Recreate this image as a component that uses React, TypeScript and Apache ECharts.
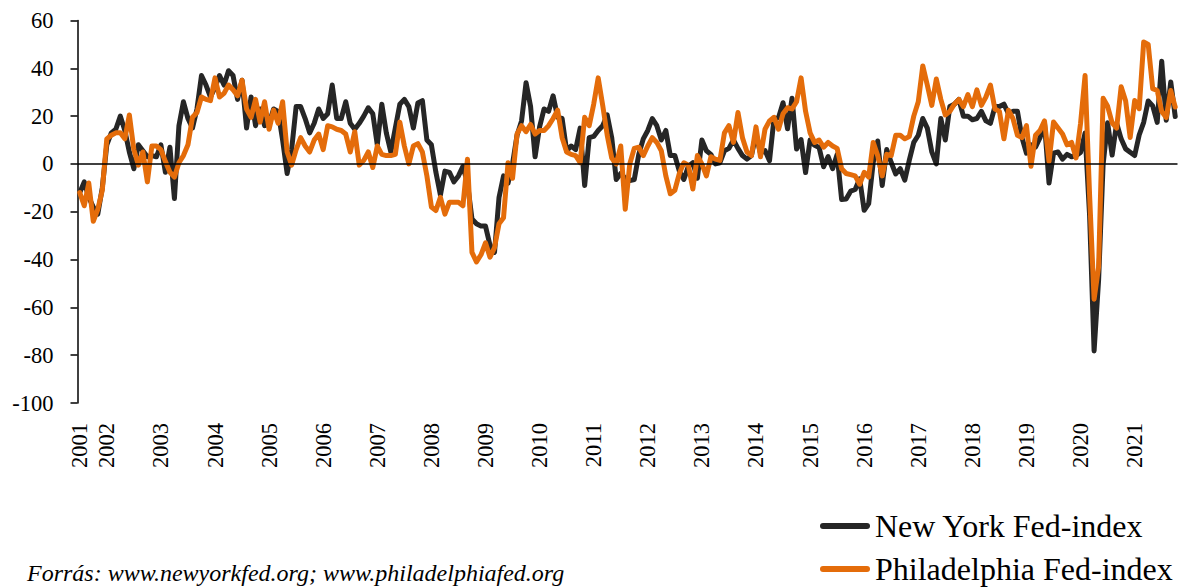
import { useEffect, useRef } from "react";
import * as echarts from "echarts";

// Monthly data, July 2001 – October 2021
const FIRST_YEAR = 2001;
const FIRST_MONTH = 7;

const newYorkFed: number[] = [
  // 2001 Jul-Dec
  -12, -7.5, -14, -18, -21, -10,
  // 2002
  8, 13, 14.5, 20, 14, 5, -2, 8, 5.5, 3, 3.5, 3,
  // 2003
  8, -3.5, 7, -14.5, 16, 26, 19, 15, 23, 37, 33, 28,
  // 2004
  32, 37, 33, 39, 37, 27, 35, 15, 28, 16, 23, 16,
  // 2005
  17, 23, 22, 10, -4, 6, 24, 24, 19, 13, 17, 23,
  // 2006
  19, 21, 33, 19, 19, 26, 17, 14.5, 17, 20, 23.5, 21,
  // 2007
  8, 25, 13, 5, 15, 25, 27, 24, 15, 25.5, 26.5, 10,
  // 2008
  8, -3.5, -13, -3, -3.5, -7.5, -5, -1, -8, -23, -25, -26,
  // 2009
  -26, -34, -37, -14, -5, -8, 0, 12, 18, 34, 24, 3,
  // 2010
  15.5, 23, 22, 28.5, 19.5, 19, 5.5, 7.5, 6, 15, -9, 11,
  // 2011
  11.5, 14, 16, 20.5, 11, -6.5, -4, -6, -7, -6.5, 4, 10.5,
  // 2012
  14, 19, 16, 10, 14, 3.5, 3.5, -3, -6.5, -1, 0.5, -6,
  // 2013
  10, 5.5, 4, 0, 0.5, 5.5, 6.5, 10, 6.5, 3.5, 2, 3.5,
  // 2014
  12.5, 4.5, 5.6, 1.3, 19, 19.3, 25.6, 14.7, 27.5, 6.2, 10.2, -3.6,
  // 2015
  10, 7.8, 6.9, -1.2, 3.1, -2, 3.9, -14.9, -14.7, -11.4, -10.7, -6.2,
  // 2016
  -19.4, -16.6, 0.6, 9.6, -9, 6, 0.6, -4.2, -2, -6.8, 1.5, 9,
  // 2017
  12, 19, 15, 5, 0, 19, 10, 24, 25, 27, 20, 20,
  // 2018
  18.5, 19, 22, 18, 17, 24, 24, 25, 21, 22, 22, 11,
  // 2019
  4.5, 8, 7, 11, 17, -8, 4.5, 5, 2, 4, 3, 3.5,
  // 2020
  4.8, 12.9, -21.5, -78.2, -48.5, -0.2, 17.2, 3.7, 17, 10.5, 6.3, 4.9,
  // 2021 Jan-Oct
  3.5, 12.1, 17.4, 26.3, 24.3, 17.4, 43, 18.3, 34.3, 19.8,
];

const philadelphiaFed: number[] = [
  // 2001 Jul-Dec
  -12, -17.5, -8, -24, -19, -11,
  // 2002
  10.5, 12, 13, 13, 10.5, 20.5, 6, -0.5, 5, -7.5, 7.5, 7.5,
  // 2003
  6, 1, -3.5, -5.5, 0.5, 3.5, 8, 19.5, 21.5, 28, 27, 26.5,
  // 2004
  36, 28, 29.5, 33, 31, 28.5, 35, 23, 19.5, 27, 17.5, 26,
  // 2005
  14.5, 22.5, 17, 26, 5, -0.5, 6, 11, 7.5, 5, 10, 12.5,
  // 2006
  6, 16, 15.5, 14.5, 14, 12.5, 5, 13.5, -0.5, 1.5, 5, -1.5,
  // 2007
  7.5, 4, 3.5, 3.5, 4, 17.5, 7.5, 0, 7.5, 8.5, 5, -5,
  // 2008
  -18, -19.5, -14, -21, -16, -16, -16, -17.5, 2, -37, -41, -38,
  // 2009
  -33, -39, -35, -25, -22.5, 0.5, -6, 12.5, 16, 13.5, 16.5, 12.5,
  // 2010
  14, 14, 16, 19, 22.5, 11, 5, 4, 3.5, 0.5, 19.5, 16,
  // 2011
  25, 36, 24.5, 12, 2.5, 0, 7.5, -19, 0, 6.5, 7, 3.5,
  // 2012
  7.5, 11, 9, 5.5, -5, -12.5, -11, -4, 0.5, -0.5, -10.5, 3.5,
  // 2013
  0, -5, 3, 2, 1.5, 13, 16, 9, 21.5, 11, 5, 3.5,
  // 2014
  15.5, 3, 14.5, 18, 19.5, 14.5, 21, 23.5, 23, 26, 36, 22,
  // 2015
  13, 9, 10, 7, 9, 7.5, 6.5, -2, -4, -4.5, -5, -8.5,
  // 2016
  -3.5, -5.5, 9, 3.5, -5, 4, 3.5, 12, 12, 10.5, 11.5, 20,
  // 2017
  26, 41, 33, 24.5, 35.5, 27, 20.5, 22, 25, 27, 24, 29,
  // 2018
  24, 31, 24.5, 28, 33, 23, 22, 10.5, 22.5, 19, 12, 11,
  // 2019
  16, -1, 12, 14, 18, 1, 17.5, 15, 12.5, 8, 9, 2.5,
  // 2020
  17, 37, -13, -56.6, -43.1, 27.5, 24.1, 17.2, 15, 32.3, 26.3, 11.1,
  // 2021 Jan-Oct
  26.5, 23.1, 51, 50, 31.5, 30.7, 21.9, 19.4, 30.7, 23.8,
];

const months: string[] = newYorkFed.map((_, k) => {
  const m = FIRST_MONTH - 1 + k;
  return `${FIRST_YEAR + Math.floor(m / 12)}-${String((m % 12) + 1).padStart(2, "0")}`;
});

const seriesNames = ["New York Fed-index", "Philadelphia Fed-index"];
const sourceText = "Forrás: www.newyorkfed.org; www.philadelphiafed.org";

const SERIF = "Liberation Serif";
const BLACK = "#262626";
const ORANGE = "#E46C0A";

const legendBase = {
  orient: "vertical",
  left: 820,
  padding: 0,
  itemWidth: 50,
  itemHeight: 6,
  icon: "path://M3 0H47A3 3 0 0 1 47 6H3A3 3 0 0 1 3 0Z",
  selectedMode: false,
  textStyle: { fontFamily: SERIF, fontSize: 32, color: "#000", lineHeight: 32 },
};

export default function App() {
  const ref = useRef<HTMLDivElement>(null);
  useEffect(() => {
    document.body.style.margin = "0";
    const chart = echarts.init(ref.current!, null, { renderer: "svg" });
    chart.setOption({
      animation: false,
      grid: { left: 77.5, top: 20.5, width: 1100, height: 382.5, containLabel: false },
      xAxis: {
        type: "category",
        data: months,
        boundaryGap: true,
        axisLine: { show: false },
        axisTick: { show: false },
        splitLine: { show: false },
        axisLabel: {
          interval: (i: number, v: string) => i === 0 || v.endsWith("-01"),
          formatter: (v: string) => v.slice(0, 4),
          rotate: 90,
          margin: 20,
          fontFamily: SERIF,
          fontSize: 22.5,
          color: "#000",
        },
      },
      yAxis: {
        type: "value",
        min: -100,
        max: 60,
        interval: 20,
        axisLine: { show: true, lineStyle: { color: "#000", width: 1.5 } },
        axisTick: { show: true, length: 7, lineStyle: { color: "#000", width: 1.5 } },
        splitLine: { show: false },
        axisLabel: { margin: 24, fontFamily: SERIF, fontSize: 22.5, color: "#000" },
      },
      legend: [
        { ...legendBase, top: 510, data: [seriesNames[0]] },
        { ...legendBase, top: 553, data: [seriesNames[1]] },
      ],
      graphic: [
        {
          type: "text",
          x: 27,
          y: 573,
          style: {
            text: sourceText,
            fontFamily: SERIF,
            fontStyle: "italic",
            fontSize: 24,
            fill: "#000",
            verticalAlign: "middle",
            align: "left",
          },
        },
      ],
      series: [
        {
          name: seriesNames[0],
          type: "line",
          data: newYorkFed,
          showSymbol: false,
          symbol: "none",
          color: BLACK,
          itemStyle: { color: BLACK },
          lineStyle: { color: BLACK, width: 5, join: "round", cap: "round" },
          markLine: {
            silent: true,
            symbol: ["none", "none"],
            label: { show: false },
            lineStyle: { color: "#000", width: 1.5, type: "solid" },
            data: [{ yAxis: 0 }],
          },
        },
        {
          name: seriesNames[1],
          type: "line",
          data: philadelphiaFed,
          showSymbol: false,
          symbol: "none",
          color: ORANGE,
          itemStyle: { color: ORANGE },
          lineStyle: { color: ORANGE, width: 5, join: "round", cap: "round" },
        },
      ],
    });
    return () => chart.dispose();
  }, []);
  return <div ref={ref} style={{ width: 1183, height: 587 }} />;
}
